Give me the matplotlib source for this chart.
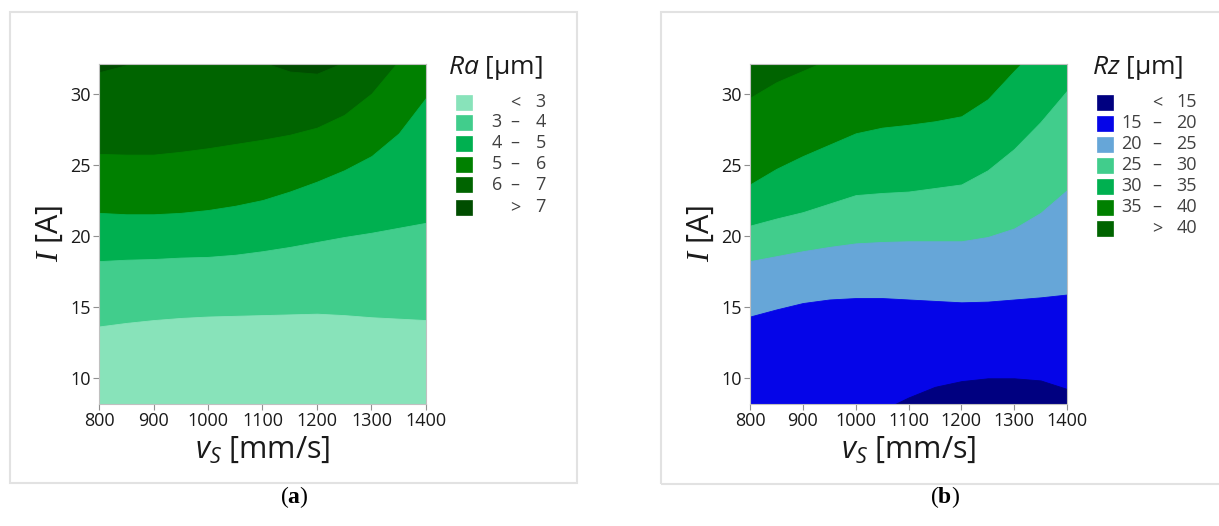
import matplotlib
matplotlib.use('Agg')
import matplotlib.pyplot as plt
from matplotlib.patches import Rectangle

plt.rcParams['font.family'] = ['Open Sans', 'DejaVu Sans']
plt.rcParams['mathtext.fontset'] = 'custom'
plt.rcParams['mathtext.it'] = 'Open Sans:italic'
plt.rcParams['mathtext.rm'] = 'Liberation Serif:italic'
plt.rcParams['mathtext.bf'] = 'Liberation Serif:bold'

# ---------------- data (contour boundaries) ----------------
vs = [800, 850, 900, 950, 1000, 1050, 1100, 1150, 1200, 1250, 1300, 1350, 1400]

# Ra [um]: current I [A] where Ra equals 3, 4, 5, 6, 7
ra_b3 = [13.6, 13.85, 14.05, 14.2, 14.3, 14.35, 14.4, 14.45, 14.5, 14.4, 14.25, 14.15, 14.05]
ra_b4 = [18.2, 18.3, 18.35, 18.45, 18.5, 18.65, 18.9, 19.2, 19.55, 19.9, 20.2, 20.55, 20.9]
ra_b5 = [21.6, 21.5, 21.5, 21.6, 21.8, 22.1, 22.5, 23.1, 23.8, 24.6, 25.6, 27.2, 29.7]
ra_b6 = [25.75, 25.7, 25.7, 25.9, 26.15, 26.45, 26.75, 27.1, 27.6, 28.5, 30.0, 32.3, 34.0]
ra_b7 = [31.5, 32.0, 32.5, 32.5, 32.5, 32.5, 32.2, 31.55, 31.4, 32.2, 33.0, 33.0, 33.0]
ra_colors = ['#88E3BA', '#41CD8C', '#00B050', '#008000', '#006400', '#004D00']
ra_low = ['', '3', '4', '5', '6', '']
ra_sym = ['<', '–', '–', '–', '–', '>']
ra_high = ['3', '4', '5', '6', '7', '7']

# Rz [um]: current I [A] where Rz equals 15, 20, 25, 30, 35, 40
rz_b15 = [7.0, 7.0, 7.0, 7.0, 7.0, 7.7, 8.6, 9.35, 9.75, 9.95, 9.95, 9.8, 9.2]
rz_b20 = [14.3, 14.8, 15.25, 15.5, 15.6, 15.6, 15.5, 15.4, 15.3, 15.35, 15.5, 15.65, 15.85]
rz_b25 = [18.2, 18.55, 18.9, 19.2, 19.45, 19.55, 19.6, 19.6, 19.6, 19.9, 20.5, 21.6, 23.2]
rz_b30 = [20.7, 21.2, 21.65, 22.25, 22.85, 23.0, 23.1, 23.35, 23.6, 24.6, 26.1, 28.0, 30.2]
rz_b35 = [23.6, 24.7, 25.6, 26.4, 27.2, 27.6, 27.8, 28.05, 28.4, 29.6, 31.6, 33.5, 33.5]
rz_b40 = [29.7, 30.8, 31.6, 32.4, 33.5, 33.5, 33.5, 33.5, 33.5, 33.5, 33.5, 33.5, 33.5]
rz_colors = ['#000080', '#0505E8', '#66A6D8', '#41CD8C', '#00B050', '#008000', '#006400']
rz_low = ['', '15', '20', '25', '30', '35', '']
rz_sym = ['<', '–', '–', '–', '–', '–', '>']
rz_high = ['15', '20', '25', '30', '35', '40', '40']

x_ticks = [800, 900, 1000, 1100, 1200, 1300, 1400]
y_ticks = [10, 15, 20, 25, 30]

# ---------------- figure ----------------
W, H = 1219, 526
fig = plt.figure(figsize=(W / 100, H / 100), dpi=100)


def fx(px):
    return px / W


def fy(py):
    return 1 - py / H


def panel(left, right, top, bottom, bounds, colors, title, low, sym, high,
          leg_x, leg_cols, leg_y, tag, tag_x):
    ax = fig.add_axes([fx(left), fy(bottom), fx(right - left), (bottom - top) / H])
    # background = highest class, then overlay lower classes from bottom
    ax.fill_between(vs, 0, 40, color=colors[-1], lw=0)
    for b, c in reversed(list(zip(bounds, colors[:-1]))):
        ax.fill_between(vs, 0, b, color=c, lw=0.6, edgecolor=c)
    ax.set_xlim(800, 1400)
    ax.set_ylim(8.14, 32.08)
    ax.set_xticks(x_ticks)
    ax.set_yticks(y_ticks)
    ax.tick_params(length=4, width=0.8, color='#909090', labelsize=13,
                   labelcolor='#1a1a1a', pad=2)
    for s in ax.spines.values():
        s.set_color('#c0c0c0')
        s.set_linewidth(0.8)
    ax.set_xlabel(r'$v_S$ [mm/s]', fontsize=22, color='#1a1a1a', labelpad=3)
    ax.set_ylabel(r'$\mathrm{I}$ [A]', fontsize=22, color='#1a1a1a', labelpad=4)
    # legend
    fig.text(fx(leg_x[0]), fy(68), title, fontsize=19, color='#1a1a1a',
             ha='left', va='center')
    for i, c in enumerate(colors):
        yc = leg_y[i]
        fig.add_artist(Rectangle((fx(leg_x[1]), fy(yc + 7.5)), 16 / W, 15 / H,
                                 transform=fig.transFigure, facecolor=c,
                                 edgecolor=c, lw=0.5))
        fig.text(fx(leg_cols[0]), fy(yc), low[i], fontsize=13, color='#404040',
                 ha='right', va='center')
        fig.text(fx(leg_cols[1]), fy(yc), sym[i], fontsize=13, color='#404040',
                 ha='center', va='center')
        fig.text(fx(leg_cols[2]), fy(yc), high[i], fontsize=13, color='#404040',
                 ha='right', va='center')
    fig.text(fx(tag_x), fy(497), r'($\mathbf{%s}$)' % tag, fontsize=17,
             family='Liberation Serif', ha='center', va='center', color='black')
    return ax


# panel frames
fig.add_artist(Rectangle((fx(10), fy(483)), 567 / W, 471 / H, transform=fig.transFigure,
                         fill=False, edgecolor='#e2e2e2', lw=1.5))
fig.add_artist(Rectangle((fx(661), fy(484)), 567 / W, 472 / H, transform=fig.transFigure,
                         fill=False, edgecolor='#e2e2e2', lw=1.5))

panel(99, 426, 64, 404, [ra_b3, ra_b4, ra_b5, ra_b6, ra_b7], ra_colors,
      r'$Ra$ [µm]', ra_low, ra_sym, ra_high,
      (448, 456), (502, 515, 546), [102, 122, 143, 164, 185, 207], 'a', 294)
panel(750, 1067, 64, 404, [rz_b15, rz_b20, rz_b25, rz_b30, rz_b35, rz_b40], rz_colors,
      r'$Rz$ [µm]', rz_low, rz_sym, rz_high,
      (1092, 1097), (1142, 1157, 1197), [102, 123, 144, 165, 186, 207, 228], 'b', 945)

fig.savefig('out.png', dpi=100, facecolor='white')
